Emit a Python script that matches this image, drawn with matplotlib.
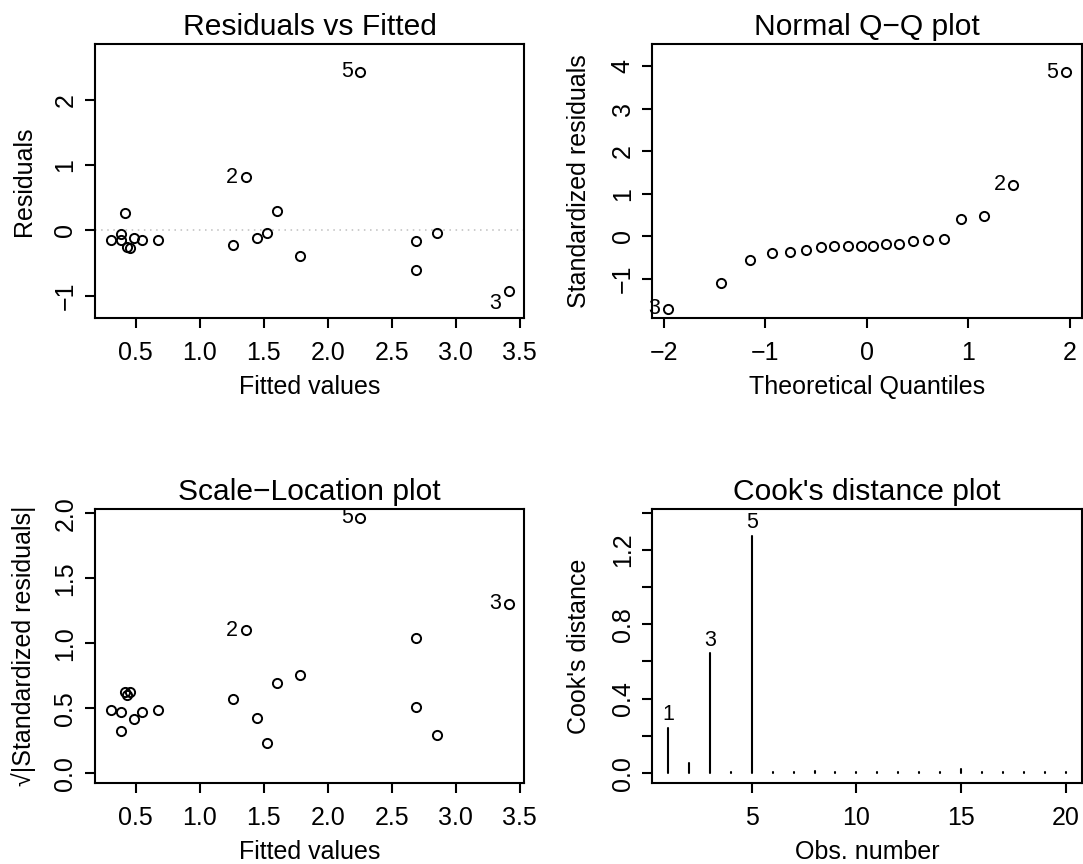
import matplotlib
matplotlib.use("Agg")
import matplotlib.pyplot as plt
import numpy as np

plt.rcParams['font.family'] = ['Liberation Sans', 'DejaVu Sans']

obs = list(range(1, 21))
fitted = [2.690, 1.359, 3.417, 0.307, 2.255, 0.385, 0.385, 0.417, 0.432, 0.453,
          0.484, 0.552, 0.677, 1.260, 1.445, 1.529, 1.604, 1.781, 2.688, 2.852]
residuals = [-0.602, 0.811, -0.934, -0.153, 2.430, -0.061, -0.148, 0.265, -0.250, -0.270,
             -0.112, -0.148, -0.153, -0.219, -0.122, -0.036, 0.301, -0.388, -0.163, -0.046]
std_resid = [-1.090, 1.212, -1.703, -0.237, 3.860, -0.108, -0.225, 0.395, -0.366, -0.392,
             -0.174, -0.224, -0.234, -0.323, -0.182, -0.055, 0.479, -0.567, -0.258, -0.085]
cooks = [0.242, 0.056, 0.643, 0.006, 1.276, 0.004, 0.004, 0.010, 0.004, 0.008,
         0.004, 0.004, 0.004, 0.006, 0.020, 0.005, 0.004, 0.005, 0.004, 0.004]
theo_quant = [-1.96, -1.44, -1.15, -0.93, -0.76, -0.60, -0.45, -0.32, -0.19, -0.06,
              0.06, 0.19, 0.32, 0.45, 0.60, 0.76, 0.93, 1.15, 1.44, 1.96]

titles = ["Residuals vs Fitted", "Normal Q\u2212Q plot",
          "Scale\u2212Location plot", "Cook's distance plot"]

W, H = 1083, 864
BOX_W, BOX_H = 429.3, 274.3
fig = plt.figure(figsize=(W / 100, H / 100), dpi=100)

LW = 1.5
FS = 18
FS_T = 21.6
FS_ID = 15.5


def make_ax(left_px, top_px):
    ax = fig.add_axes([left_px / W, (H - top_px - BOX_H) / H, BOX_W / W, BOX_H / H])
    for s in ax.spines.values():
        s.set_linewidth(LW)
    ax.tick_params(axis='both', direction='out', length=7.2, width=LW, labelsize=FS)
    ax.tick_params(axis='x', pad=9.0)
    ax.tick_params(axis='y', pad=5.5)
    return ax


def finish(ax, title, xlabel, ylabel, ylab_px=64):
    ax.set_title(title, fontsize=FS_T, pad=6.5)
    ax.set_xlabel(xlabel, fontsize=FS, va='baseline')
    ax.xaxis.set_label_coords(0.5, -76.0 / BOX_H)
    ax.set_ylabel(ylabel, fontsize=FS, va='baseline')
    ax.yaxis.set_label_coords(-ylab_px / BOX_W, 0.5)
    for lab in ax.get_yticklabels():
        lab.set_rotation(90)
        lab.set_va('center')
        lab.set_ha('right')


mk = dict(linestyle='none', marker='o', mfc='none', mec='black', ms=6.6, mew=1.4)


def label_pts(ax, ids, xs, ys, dy_neg=0.0):
    for i in ids:
        dy = dy_neg if ys[i - 1] < 0 else 0.0
        ax.annotate(str(i), (xs[i - 1], ys[i - 1]), xytext=(-5.5, dy),
                    textcoords='offset points', ha='right', va='center',
                    fontsize=FS_ID)


# ---- Residuals vs Fitted ----
ax1 = make_ax(95, 44)
ax1.axhline(0, color='#bebebe', lw=1.1, linestyle=(0, (1, 3)))
ax1.plot(fitted, residuals, **mk)
ax1.set_xlim(0.182, 3.536)
ax1.set_ylim(-1.348, 2.853)
ax1.set_xticks([0.5, 1.0, 1.5, 2.0, 2.5, 3.0, 3.5])
ax1.set_yticks([-1, 0, 1, 2])
label_pts(ax1, [5, 2, 3], fitted, residuals, dy_neg=-8.6)
finish(ax1, titles[0], "Fitted values", "Residuals")

# ---- Normal Q-Q ----
ax2 = make_ax(652.3, 44)
order = np.argsort(std_resid)
sorted_std = [std_resid[k] for k in order]
ax2.plot(theo_quant, sorted_std, **mk)
ax2.set_xlim(-2.112, 2.114)
ax2.set_ylim(-1.928, 4.521)
ax2.set_xticks([-2, -1, 0, 1, 2])
ax2.set_yticks([-1, 0, 1, 2, 3, 4])
for i in [5, 2, 3]:
    rank = list(order).index(i - 1)
    ax2.annotate(str(i), (theo_quant[rank], sorted_std[rank]), xytext=(-5.5, 0),
                 textcoords='offset points', ha='right', va='center', fontsize=FS_ID)
finish(ax2, titles[1], "Theoretical Quantiles", "Standardized residuals", ylab_px=66)

# ---- Scale-Location ----
ax3 = make_ax(95, 509)
sl = [np.sqrt(abs(v)) for v in std_resid]
ax3.plot(fitted, sl, **mk)
ax3.set_xlim(0.182, 3.536)
ax3.set_ylim(-0.077, 2.033)
ax3.set_xticks([0.5, 1.0, 1.5, 2.0, 2.5, 3.0, 3.5])
ax3.set_yticks([0.0, 0.5, 1.0, 1.5, 2.0])
label_pts(ax3, [5, 3, 2], fitted, sl)
finish(ax3, titles[2], "Fitted values", "\u221a|Standardized residuals|")

# ---- Cook's distance ----
ax4 = make_ax(652.3, 509)
vl = ax4.vlines(obs, 0, cooks, colors='black', lw=LW)
vl.set_capstyle('round')
ax4.set_xlim(0.25, 20.76)
ax4.set_ylim(-0.055, 1.419)
ax4.set_xticks([5, 10, 15, 20])
ax4.set_yticks([0.0, 0.2, 0.4, 0.6, 0.8, 1.0, 1.2, 1.4])
ax4.set_yticklabels(['0.0', '', '0.4', '', '0.8', '', '1.2', ''])
for i in [5, 3, 1]:
    ax4.annotate(str(i), (obs[i - 1], cooks[i - 1]), xytext=(0, 2),
                 textcoords='offset points', ha='center', va='bottom', fontsize=FS_ID)
finish(ax4, titles[3], "Obs. number", "Cook's distance", ylab_px=66)

fig.savefig("out.png", dpi=100, facecolor='white')
